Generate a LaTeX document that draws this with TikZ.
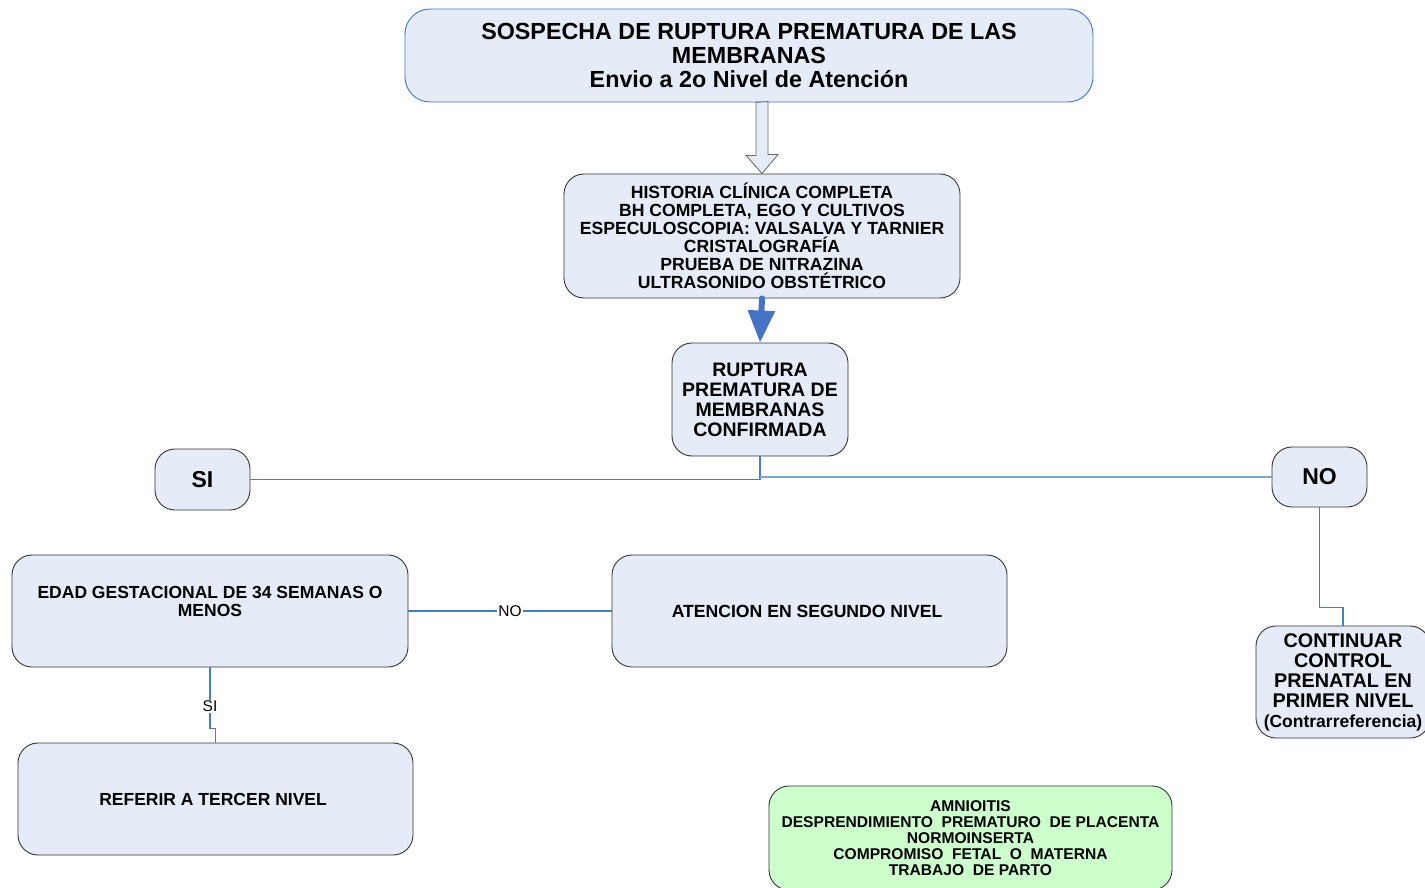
\documentclass[tikz,border=0pt]{standalone}
\usepackage{fontspec}
\setmainfont{Liberation Sans}
\usetikzlibrary{arrows.meta, positioning}

\definecolor{boxfill}{HTML}{E6ECF7}
\definecolor{linkblue}{HTML}{4A7EBB}
\definecolor{arrowblue}{HTML}{4472C4}
\definecolor{greenfill}{HTML}{CCFFCC}

\begin{document}
\begin{tikzpicture}[
    x=1pt, y=-1pt,
    box/.style={
        rectangle, draw=black!80, rounded corners=20pt,
        fill=boxfill, align=center, inner sep=0pt,
        line width=0.9pt, font=\bfseries
    },
    hollow/.style={draw=black!60, fill=boxfill, line width=0.8pt},
    bluearrow/.style={-{Triangle[width=26pt, length=32pt]}, draw=arrowblue,
        fill=arrowblue, line width=6pt, line cap=round},
    link/.style={draw=linkblue, line width=1.1pt},
    tag/.style={font=\fontsize{15.5}{15.5}\selectfont, fill=white, inner sep=1pt}
]
\useasboundingbox (0,0) rectangle (1425,888);

%% ─── TOP: suspicion ──────────────────────────────────────────
\node[box, draw=arrowblue, rounded corners=25pt, minimum width=688pt,
      minimum height=93pt, font=\bfseries\fontsize{23.3}{24}\selectfont]
      (sospecha) at (749,55.5) {
    SOSPECHA DE RUPTURA PREMATURA DE LAS\\
    MEMBRANAS\\
    Envio a 2o Nivel de Atención
};

\node[box, minimum width=396pt, minimum height=124pt,
      font=\bfseries\fontsize{17.6}{18}\selectfont] (historia) at (762,236) {
    HISTORIA CLÍNICA COMPLETA\\
    BH COMPLETA, EGO Y CULTIVOS\\
    ESPECULOSCOPIA: VALSALVA Y TARNIER\\
    CRISTALOGRAFÍA\\
    PRUEBA DE NITRAZINA\\
    ULTRASONIDO OBSTÉTRICO
};

\node[box, minimum width=176pt, minimum height=113pt,
      font=\bfseries\fontsize{19.5}{20}\selectfont] (ruptura) at (760,399.5) {
    RUPTURA\\
    PREMATURA DE\\
    MEMBRANAS\\
    CONFIRMADA
};

%% ─── DECISION ────────────────────────────────────────────────
\node[box, minimum width=95pt, minimum height=61pt,
      font=\bfseries\fontsize{23}{24}\selectfont] (si) at (202.5,479.5) {SI};
\node[box, minimum width=95pt, minimum height=60pt,
      font=\bfseries\fontsize{23}{24}\selectfont] (no) at (1319.5,477) {NO};

%% ─── LEFT BRANCH ─────────────────────────────────────────────
\node[box, minimum width=396pt, minimum height=112pt,
      font=\bfseries\fontsize{17.5}{18}\selectfont] (edad) at (210,611) {
    EDAD GESTACIONAL DE 34 SEMANAS O\\
    MENOS\\[2pt]
    ~
};

\node[box, minimum width=395pt, minimum height=112pt,
      font=\bfseries\fontsize{17.6}{18}\selectfont] (atencion) at (809.5,611) {
    ATENCION EN SEGUNDO NIVEL
};

\node[box, minimum width=395pt, minimum height=112pt,
      font=\bfseries\fontsize{17.5}{18}\selectfont] (referir) at (215.5,799) {
    REFERIR A TERCER NIVEL
};

%% ─── RIGHT BRANCH ────────────────────────────────────────────
\node[box, minimum width=174pt, minimum height=112pt,
      font=\bfseries\fontsize{19.8}{20}\selectfont] (continuar) at (1343,682) {
    CONTINUAR\\
    CONTROL\\
    PRENATAL EN\\
    PRIMER NIVEL\\
    {\fontsize{17.5}{18}\selectfont (Contrarreferencia)}
};

%% ─── Complications note ──────────────────────────────────────
\node[box, fill=greenfill, minimum width=403pt, minimum height=104pt,
      font=\bfseries\fontsize{15.6}{16}\selectfont] (complica) at (970.5,838) {
    AMNIOITIS\\
    DESPRENDIMIENTO\ \ PREMATURO\ \ DE PLACENTA\\
    NORMOINSERTA\\
    COMPROMISO\ \ FETAL\ \ O\ \ MATERNA\\
    TRABAJO\ \ DE PARTO
};

%% ─── ARROWS ──────────────────────────────────────────────────
\coordinate (tip) at (historia.north);
\draw[hollow] (sospecha.south -| tip) ++(-6,0) -- ++(0,53) -- ++(-10,0)
    -- (tip) -- ++(16,-19) -- ++(-10,0) -- ++(0,-53) -- cycle;

\draw[bluearrow] (historia.south) -- (ruptura.north);

% Confirmed → SI / NO
\draw[link] (ruptura.south) |- (si.east);
\draw[link, draw=linkblue!70] (ruptura.south |- no.west) -- (no.west);

% Gestational age → second / third level
\draw[link] (edad.east) -- node[tag]{NO} (atencion.west);
\draw[link] (edad.south) -- node[tag, pos=0.64]{SI} ++(0,61) -| (referir.north);

% NO → continue in first level
\draw[link] (no.south) -- ++(0,100) -| (continuar.north);

\end{tikzpicture}
\end{document}
